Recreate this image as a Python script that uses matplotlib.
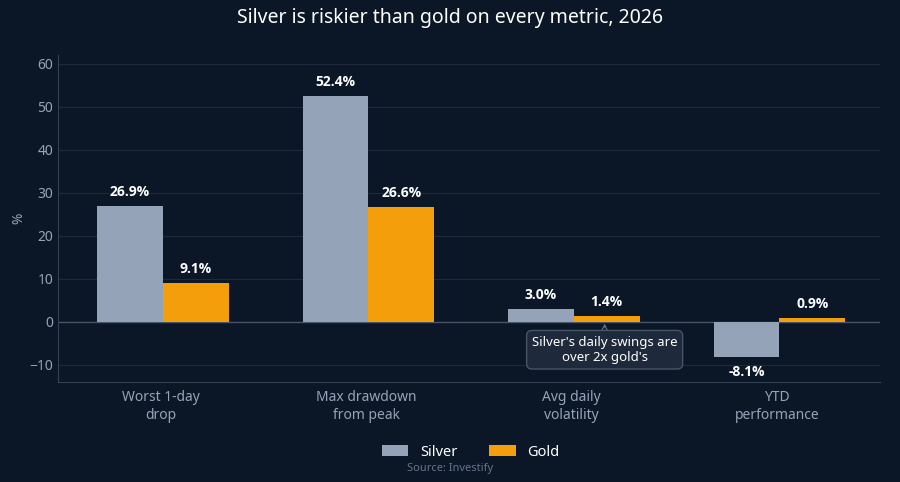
import matplotlib
matplotlib.use("Agg")
import matplotlib.pyplot as plt
import numpy as np

plt.rcParams['font.family'] = ['Noto Sans', 'DejaVu Sans']

categories = ["Worst 1-day\ndrop", "Max drawdown\nfrom peak", "Avg daily\nvolatility", "YTD\nperformance"]
silver = [26.9, 52.4, 3.0, -8.1]
gold = [9.1, 26.6, 1.4, 0.9]
yticks = [-10, 0, 10, 20, 30, 40, 50, 60]

BG = "#0b1727"
SILVER = "#94a3b8"
GOLD = "#f59e0b"
GRID = "#1e2a3b"
TXT = "#94a3b8"

fig = plt.figure(figsize=(9, 4.82), dpi=100, facecolor=BG)
ax = fig.add_axes([58/900, 1-382/482, 822/900, 327/482], facecolor=BG)

x = np.arange(len(categories))
w = 0.32
b1 = ax.bar(x - w/2 + 0.01, silver, w, color=SILVER, label="Silver", zorder=3)
b2 = ax.bar(x + w/2 + 0.01, gold, w, color=GOLD, label="Gold", zorder=3)

for bars, vals in ((b1, silver), (b2, gold)):
    for r, v in zip(bars, vals):
        cx = r.get_x() + r.get_width()/2
        if v >= 0:
            ax.text(cx, v + 1.6, f"{v:.1f}%", ha="center", va="bottom", color="white",
                    fontsize=10, fontweight="bold", family=["Open Sans", "DejaVu Sans"])
        else:
            ax.text(cx, v - 2.0, f"{v:.1f}%", ha="center", va="top", color="white",
                    fontsize=10, fontweight="bold", family=["Open Sans", "DejaVu Sans"])

ax.set_xlim(-0.5, 3.5)
ax.set_ylim(-14, 62)
ax.set_yticks(yticks)
ax.set_xticks(x)
ax.set_xticklabels(categories)
ax.tick_params(colors=TXT, labelsize=10, length=0)
ax.tick_params(axis='x', pad=6)
for s in ("top", "right"):
    ax.spines[s].set_visible(False)
for s in ("left", "bottom"):
    ax.spines[s].set_color("#334155")
ax.grid(axis="y", color=GRID, linewidth=0.8, zorder=0)
ax.axhline(0, color="#475569", linewidth=1, zorder=2)
ax.set_ylabel("%", color=TXT, fontsize=10, labelpad=2)

ax.annotate("Silver's daily swings are\nover 2x gold's", xy=(2 + w/2, 0.2), xytext=(2.16, -6.5),
            ha="center", va="center", color="white", fontsize=9.5,
            bbox=dict(boxstyle="round,pad=0.4", fc="#1e293b", ec="#475569", lw=1),
            arrowprops=dict(arrowstyle="->", color="#64748b", lw=0.8), zorder=5)

fig.text(0.5, 1-18/482, "Silver is riskier than gold on every metric, 2026", ha="center", va="center",
         color="white", fontsize=14)
leg = fig.legend(handles=[b1, b2], loc="center", bbox_to_anchor=(0.523, 1-452/482), ncol=2,
                 frameon=False, fontsize=10.5, labelcolor="white", handlelength=1.8, columnspacing=2.2)
fig.text(0.5, 1-468/482, "Source: Investify", ha="center", va="center", color="#64748b", fontsize=8)

fig.savefig("out.png", dpi=100, facecolor=BG)
